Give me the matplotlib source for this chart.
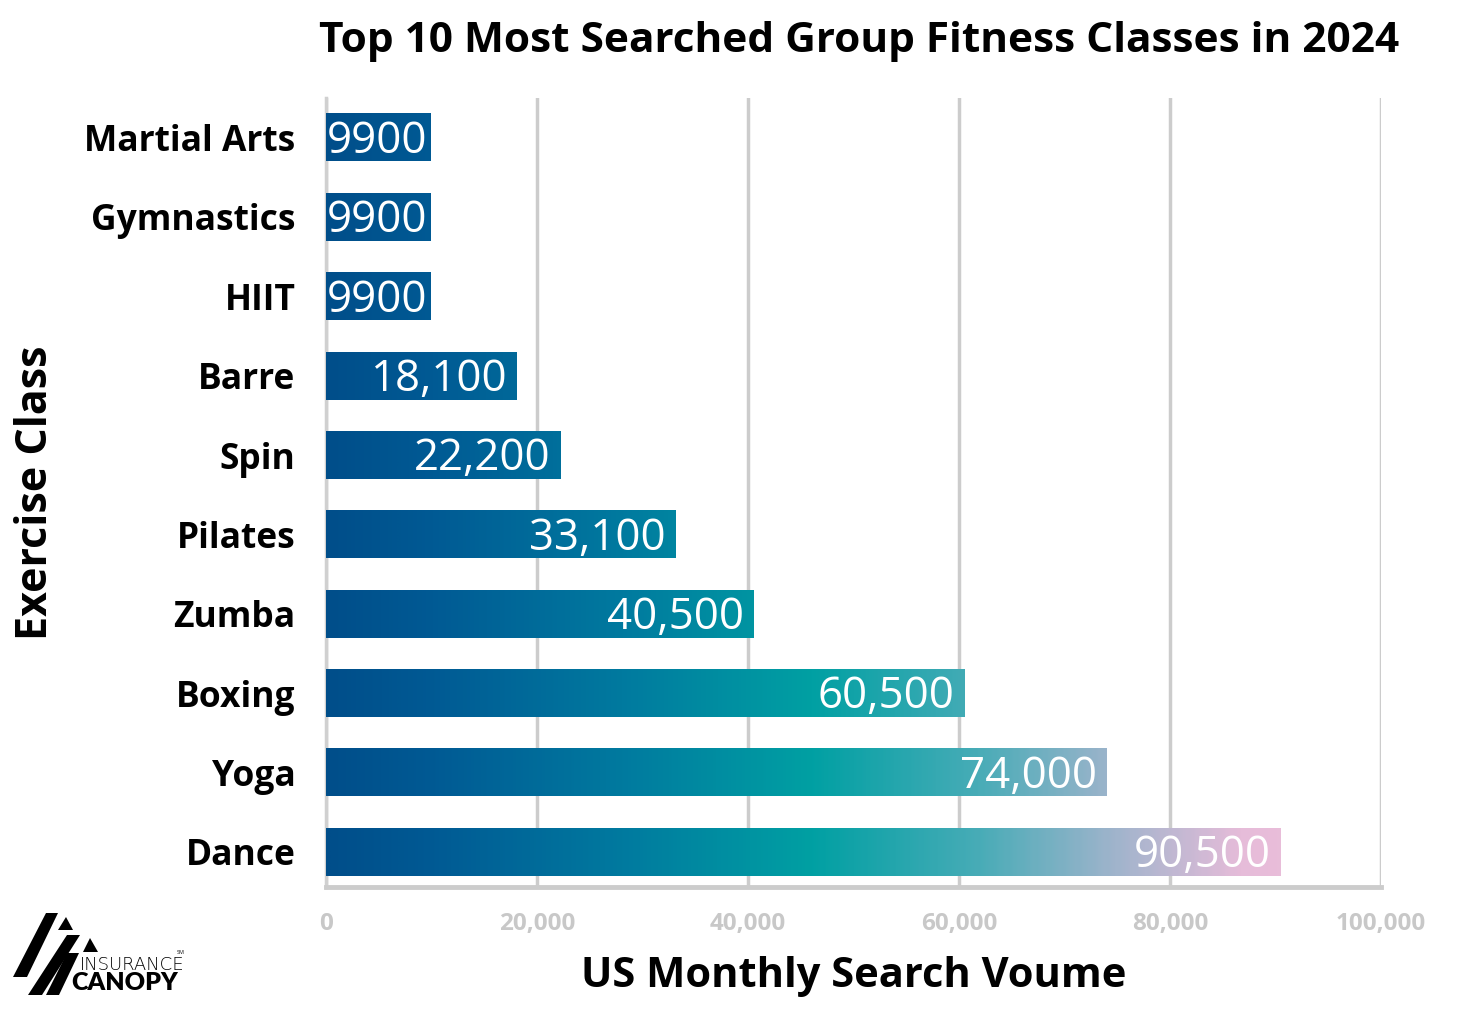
import numpy as np
import matplotlib.pyplot as plt
from matplotlib.colors import LinearSegmentedColormap, Normalize
from matplotlib.patches import Polygon

# data (top to bottom in the picture)
classes = ['Martial Arts', 'Gymnastics', 'HIIT', 'Barre', 'Spin', 'Pilates',
           'Zumba', 'Boxing', 'Yoga', 'Dance']
searches = [9900, 9900, 9900, 18100, 22200, 33100, 40500, 60500, 74000, 90500]
bar_labels = ['9900', '9900', '9900', '18,100', '22,200', '33,100',
              '40,500', '60,500', '74,000', '90,500']
x_ticks = [0, 20000, 40000, 60000, 80000, 100000]
x_tick_labels = ['0', '20,000', '40,000', '60,000', '80,000', '100,000']

plt.rcParams['font.family'] = ['Open Sans', 'DejaVu Sans']

# gradient follows the x position, same colour at the same x for all bars
cmap = LinearSegmentedColormap.from_list('canopy', [
    (0.00, '#004e8a'), (0.10, '#005a94'), (0.28, '#007a9f'),
    (0.46, '#00a0a3'), (0.62, '#48acb7'), (0.75, '#a0b4cc'),
    (0.87, '#e6bcd9'), (1.00, '#f0c0dc')])
norm = Normalize(0, 100000)

fig = plt.figure(figsize=(14.58, 10.09), dpi=100)
ax = fig.add_axes([0.2236, 0.121, 0.7235, 0.782])

bar_h = 0.6
n = len(classes)
ypos = np.arange(n)[::-1]  # Martial Arts on top
for y, v, lab in zip(ypos, searches, bar_labels):
    xs = np.linspace(0, v, 300)
    ax.imshow(cmap(norm(xs))[np.newaxis, :, :], extent=[0, v, y - bar_h / 2, y + bar_h / 2],
              aspect='auto', interpolation='bilinear', zorder=3)
    pad = 300 if v < 12000 else 900
    ax.text(v - pad, y - 0.05, lab, color='white', fontsize=31.5, ha='right', va='center',
            zorder=4)

ax.set_xlim(0, 100000)
ax.set_ylim(-0.44, n - 0.5)
ax.set_yticks(ypos)
ax.set_yticklabels(classes, fontsize=25.5, fontweight='bold')
ax.set_xticks(x_ticks)
ax.set_xticklabels(x_tick_labels, fontsize=17.5, fontweight='bold', color='#c8c8c8',
                   family=['Liberation Sans Narrow', 'Open Sans', 'DejaVu Sans'])
ax.tick_params(axis='y', length=0, pad=22)
ax.tick_params(axis='x', length=0, pad=18)

ax.grid(axis='x', color='#cccccc', linewidth=2.5, zorder=0)
ax.set_axisbelow(True)
for s in ['top', 'right']:
    ax.spines[s].set_visible(False)
ax.spines['left'].set_color('#d0d0d0')
ax.spines['left'].set_linewidth(2.5)
ax.spines['bottom'].set_color('#cccccc')
ax.spines['bottom'].set_linewidth(3.5)

ax.set_ylabel('Exercise Class', fontsize=31, fontweight='bold')
ax.yaxis.set_label_coords(-0.255, 0.5)
ax.set_xlabel('US Monthly Search Voume', fontsize=30, fontweight='bold')
ax.xaxis.set_label_coords(0.5, -0.088)
fig.text(0.589, 0.959, 'Top 10 Most Searched Group Fitness Classes in 2024',
         fontsize=30.5, fontweight='bold', ha='center', va='center')

# logo, bottom left
W, H = 1458, 1009
def px(pts):
    return [(x / W, 1 - y / H) for x, y in pts]
logo = [
    [(13, 977), (27, 977), (58, 913), (46, 913)],
    [(28, 995), (42, 995), (80, 935), (67, 935)],
    [(46, 995), (59, 995), (79, 953), (67, 953)],
    [(58, 930), (66, 917), (73, 930)],
    [(83, 952), (90, 938), (98, 952)],
]
for p in logo:
    fig.patches.append(Polygon(px(p), closed=True, transform=fig.transFigure,
                               facecolor='black', edgecolor='none'))
fig.text(80 / W, 1 - 965 / H, 'INSURANCE', fontsize=13, fontweight='light',
         va='center', ha='left', family=['Liberation Sans Narrow', 'DejaVu Sans'])
fig.text(71 / W, 1 - 983 / H, 'CANOPY', fontsize=18, fontweight='heavy',
         va='center', ha='left', family=['Lato', 'DejaVu Sans'])
fig.text(177 / W, 1 - 952 / H, 'SM', fontsize=4, va='center', ha='left')

plt.savefig('out.png', dpi=100)
